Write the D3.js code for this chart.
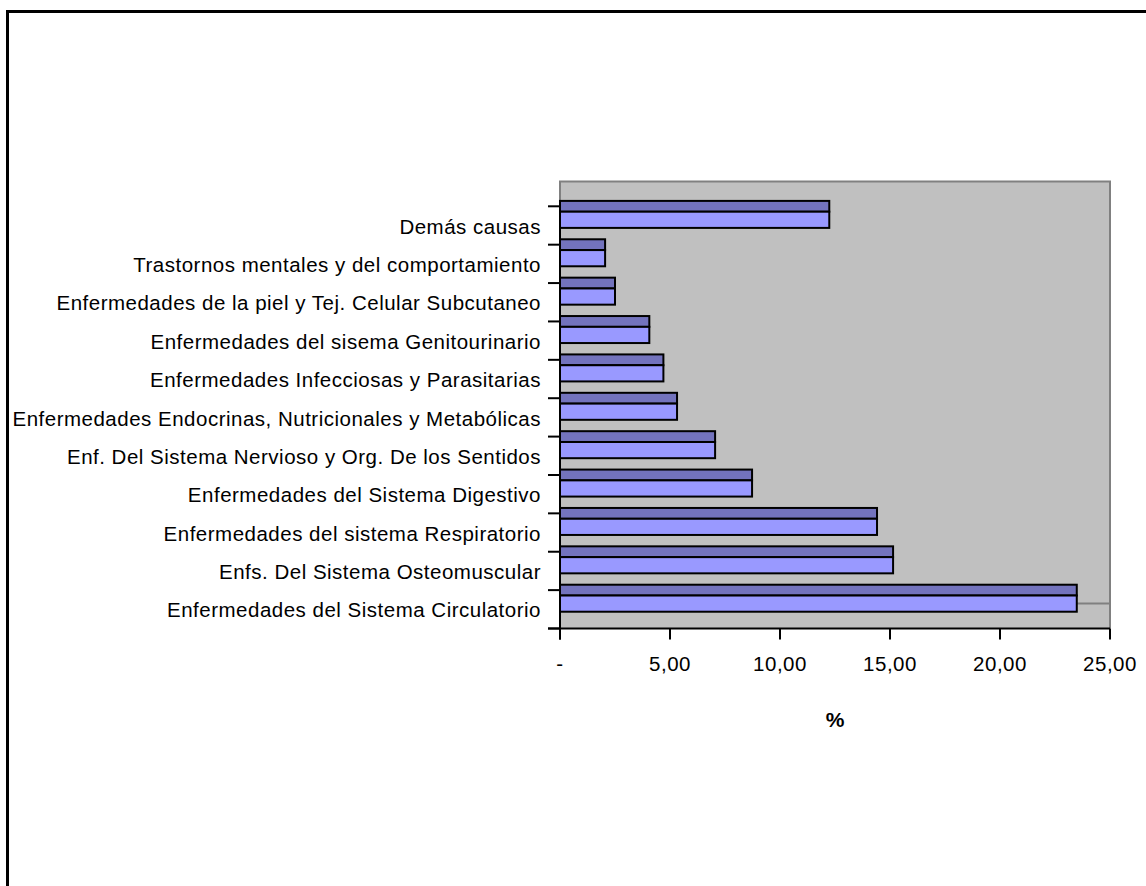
<!DOCTYPE html>
<html>
<head>
<meta charset="utf-8">
<script src="https://cdn.jsdelivr.net/npm/d3@7/dist/d3.min.js"></script>
<style>
  html, body { margin: 0; padding: 0; background: #fff; }
  svg { display: block; }
  text { font-family: "Liberation Sans", Arial, sans-serif; fill: #000; }
</style>
</head>
<body>
<svg id="chart" width="1146" height="886"></svg>
<script>
// Causes, listed from top to bottom as they appear on the vertical axis
const categories = [
  "Demás causas",
  "Trastornos mentales y del comportamiento",
  "Enfermedades de la piel y Tej. Celular Subcutaneo",
  "Enfermedades del sisema Genitourinario",
  "Enfermedades Infecciosas y Parasitarias",
  "Enfermedades Endocrinas, Nutricionales y Metabólicas",
  "Enf. Del Sistema Nervioso y Org. De los Sentidos",
  "Enfermedades del Sistema Digestivo",
  "Enfermedades del sistema Respiratorio",
  "Enfs. Del Sistema Osteomuscular",
  "Enfermedades del Sistema Circulatorio"
];

// Share of cases (%) for each cause
const values = [12.24, 2.05, 2.50, 4.06, 4.70, 5.32, 7.05, 8.73, 14.41, 15.14, 23.49];

// Value axis ticks and their labels
const xTicks = [0, 5, 10, 15, 20, 25];
const xTickLabels = ["-", "5,00", "10,00", "15,00", "20,00", "25,00"];
const xTitle = "%";

const svg = d3.select("#chart");

// Outer chart frame (runs off the right and bottom edges)
svg.append("rect")
  .attr("x", 7.5).attr("y", 11.5)
  .attr("width", 1200).attr("height", 1000)
  .attr("fill", "#fff")
  .attr("stroke", "#000").attr("stroke-width", 3);

const plot = { left: 560, right: 1110, top: 181.5, bottom: 628.5, catTop: 206.3 };

const x = d3.scaleLinear().domain([0, 25]).range([plot.left, plot.right]);
const y = d3.scaleBand().domain(categories).range([plot.catTop, plot.bottom]).padding(0);
const bw = y.bandwidth();

// Plot wall
svg.append("rect")
  .attr("x", plot.left).attr("y", plot.top)
  .attr("width", plot.right - plot.left).attr("height", plot.bottom - plot.top)
  .attr("fill", "#c0c0c0");

// Wall edges: top, right and the short left segment above the axis
svg.append("path")
  .attr("d", `M${plot.left},${plot.catTop} V${plot.top} H${plot.right} V${plot.bottom}`)
  .attr("fill", "none").attr("stroke", "#808080").attr("stroke-width", 2);

// Wall/floor seam at the level of the lowest bar's front face
const seamY = y(categories[categories.length - 1]) + 5.4 + 16.2 / 2;
svg.append("line")
  .attr("x1", plot.left).attr("x2", plot.right)
  .attr("y1", seamY).attr("y2", seamY)
  .attr("stroke", "#808080").attr("stroke-width", 2);

// Bars: a darker top face and a lighter front face
const bars = svg.append("g").selectAll("g")
  .data(categories.map((c, i) => ({ c, v: values[i] })))
  .join("g");

bars.append("rect")
  .attr("x", x(0))
  .attr("y", d => y(d.c) - 5.4)
  .attr("width", d => x(d.v) - x(0))
  .attr("height", 10.8)
  .attr("fill", "#7373bd")
  .attr("stroke", "#000").attr("stroke-width", 2);

bars.append("rect")
  .attr("x", x(0))
  .attr("y", d => y(d.c) + 5.4)
  .attr("width", d => x(d.v) - x(0))
  .attr("height", 16.2)
  .attr("fill", "#9999ff")
  .attr("stroke", "#000").attr("stroke-width", 2);

// Category axis: line, tick marks at band boundaries, labels
const yAxis = svg.append("g");
yAxis.append("line")
  .attr("x1", plot.left).attr("x2", plot.left)
  .attr("y1", plot.catTop).attr("y2", plot.bottom + 11)
  .attr("stroke", "#000").attr("stroke-width", 2);

const boundaries = categories.map(c => y(c)).concat([plot.bottom]);
yAxis.selectAll("line.tick")
  .data(boundaries)
  .join("line")
  .attr("class", "tick")
  .attr("x1", plot.left - 12).attr("x2", plot.left)
  .attr("y1", d => d).attr("y2", d => d)
  .attr("stroke", "#000").attr("stroke-width", 2);

yAxis.selectAll("text")
  .data(categories)
  .join("text")
  .attr("x", plot.left - 19)
  .attr("y", d => y(d) + bw / 2 + 1)
  .attr("dy", "0.35em")
  .attr("text-anchor", "end")
  .style("font-size", "20.5px")
  .style("letter-spacing", "0.5px")
  .text(d => d);

// Value axis
const xAxis = svg.append("g");
xAxis.append("line")
  .attr("x1", plot.left - 12).attr("x2", plot.right)
  .attr("y1", plot.bottom).attr("y2", plot.bottom)
  .attr("stroke", "#000").attr("stroke-width", 2);

xAxis.selectAll("line.tick")
  .data(xTicks)
  .join("line")
  .attr("class", "tick")
  .attr("x1", d => x(d)).attr("x2", d => x(d))
  .attr("y1", plot.bottom).attr("y2", plot.bottom + 11)
  .attr("stroke", "#000").attr("stroke-width", 2);

xAxis.selectAll("text")
  .data(xTicks)
  .join("text")
  .attr("x", d => x(d))
  .attr("y", 664)
  .attr("dy", "0.35em")
  .attr("text-anchor", "middle")
  .style("font-size", "20.5px")
  .style("letter-spacing", "0.5px")
  .text((d, i) => xTickLabels[i]);

svg.append("text")
  .attr("x", (plot.left + plot.right) / 2)
  .attr("y", 720)
  .attr("dy", "0.35em")
  .attr("text-anchor", "middle")
  .style("font-size", "21px")
  .style("font-weight", "bold")
  .text(xTitle);
</script>
</body>
</html>
